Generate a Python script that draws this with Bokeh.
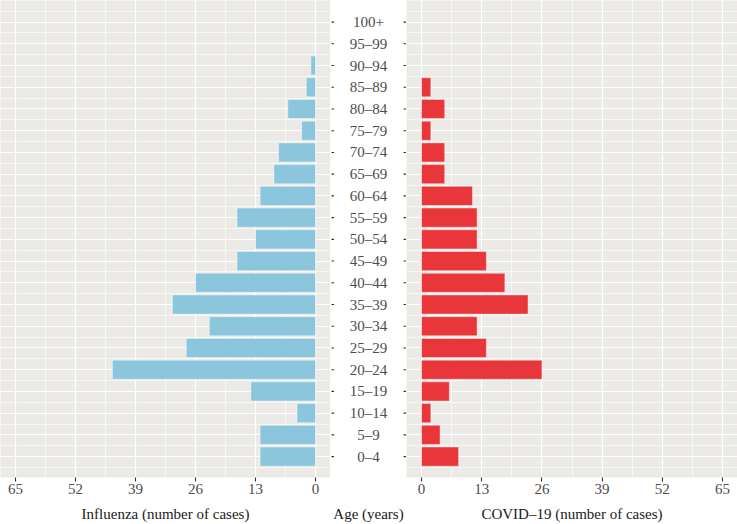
from bokeh.plotting import figure
from bokeh.models import Range1d, FixedTicker
from bokeh.layouts import row
from bokeh.embed import file_html
from bokeh.resources import INLINE
from bokeh.core.properties import value

ages = ["0–4", "5–9", "10–14", "15–19", "20–24", "25–29", "30–34", "35–39",
        "40–44", "45–49", "50–54", "55–59", "60–64", "65–69", "70–74", "75–79",
        "80–84", "85–89", "90–94", "95–99", "100+"]
influenza = [12, 12, 4, 14, 44, 28, 23, 31, 26, 17, 13, 17, 12, 9, 8, 3, 6, 2, 1, 0, 0]
covid = [8, 4, 2, 6, 26, 14, 12, 23, 18, 14, 12, 12, 11, 5, 5, 2, 5, 2, 0, 0, 0]
x_ticks = [0, 13, 26, 39, 52, 65]
x_minor = [6.5, 19.5, 32.5, 45.5, 58.5]

FONT_NAME = "Liberation Serif"
FONT = value(FONT_NAME)
FS = "15px"
BG = "#EBEAE6"
idx = list(range(len(ages)))
y_minor = [i - 0.5 for i in range(len(ages) + 1)]
FRAME_H = 479
BOTTOM = 45


def yrange():
    return Range1d(-0.962, 20.994)


def style_axis(ax, label):
    ax.axis_line_color = None
    ax.major_tick_line_color = "#333333"
    ax.major_tick_line_width = 1.1
    ax.major_tick_out = 4
    ax.major_tick_in = 0
    ax.minor_tick_line_color = None
    ax.major_label_standoff = 2
    ax.major_label_text_font = FONT_NAME
    ax.major_label_text_font_size = FS
    ax.major_label_text_color = "#4D4D4D"
    ax.axis_label = label
    ax.axis_label_text_font = FONT_NAME
    ax.axis_label_text_font_size = FS
    ax.axis_label_text_font_style = "normal"
    ax.axis_label_text_color = "#1A1A1A"
    ax.axis_label_standoff = 9


def panel(width, xr, vals, color, label):
    p = figure(width=width, height=FRAME_H + BOTTOM, x_range=xr, y_range=yrange(),
               output_backend="svg", toolbar_location=None,
               y_axis_location=None,
               min_border_left=0, min_border_right=0, min_border_top=0,
               min_border_bottom=BOTTOM)
    p.background_fill_color = BG
    p.border_fill_color = "white"
    p.outline_line_color = None
    ax = p.xaxis[0]
    ax.ticker = FixedTicker(ticks=x_ticks, minor_ticks=x_minor)
    style_axis(ax, label)
    g = p.xgrid[0]
    g.grid_line_color = "white"
    g.grid_line_width = 1.2
    g.minor_grid_line_color = "white"
    g.minor_grid_line_width = 0.6
    yg = p.ygrid[0]
    yg.ticker = FixedTicker(ticks=idx, minor_ticks=y_minor)
    yg.grid_line_color = "white"
    yg.grid_line_width = 1.2
    yg.minor_grid_line_color = "white"
    yg.minor_grid_line_width = 0.6
    p.hbar(y=idx, left=0, right=vals, height=0.88, fill_color=color,
           line_color="white", line_width=0.6, line_alpha=0.7)
    return p


left = panel(330, Range1d(68.25, -3.25), influenza, "#8BC6DC",
             "Influenza (number of cases)")
right = panel(331, Range1d(-3.25, 68.25), covid, "#E8363B",
              "COVID–19 (number of cases)")

MID_W = 76
mid = figure(width=MID_W, height=FRAME_H + BOTTOM, x_range=Range1d(0, MID_W),
             y_range=yrange(), output_backend="svg", toolbar_location=None,
             y_axis_location=None,
             min_border_left=0, min_border_right=0, min_border_top=0,
             min_border_bottom=BOTTOM)
mid.background_fill_color = "white"
mid.border_fill_color = "white"
mid.outline_line_color = None
mid.xgrid.visible = False
mid.ygrid.visible = False
max_ = mid.xaxis[0]
max_.ticker = FixedTicker(ticks=[MID_W // 2])
style_axis(max_, "Age (years)")
max_.major_label_overrides = {MID_W // 2: "0"}
max_.major_label_text_color = "white"
max_.major_tick_line_color = None

mid.text(x=[MID_W / 2] * len(ages), y=idx, text=ages, text_align="center",
         text_baseline="middle", text_font=FONT, text_font_size=FS,
         text_color="#4D4D4D")
mid.segment(x0=1.0, x1=3.5, y0=idx, y1=idx, line_color="#333333", line_width=1.1)
mid.segment(x0=MID_W - 3.0, x1=MID_W - 0.5, y0=idx, y1=idx, line_color="#333333",
            line_width=1.1)

layout = row(left, mid, right)
open("out.html", "w").write(file_html(layout, INLINE))
